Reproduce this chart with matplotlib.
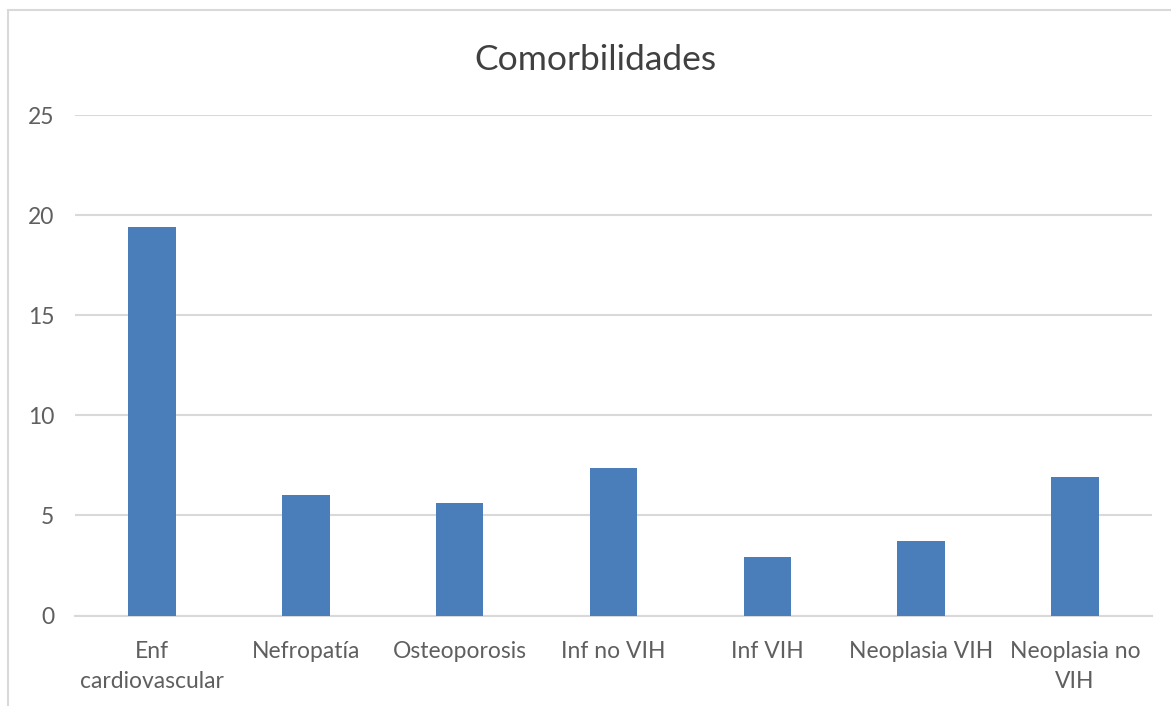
import matplotlib
matplotlib.use('Agg')
import matplotlib.pyplot as plt
from matplotlib.patches import Rectangle

categorias = ['Enf\ncardiovascular', 'Nefropatía', 'Osteoporosis', 'Inf no VIH',
              'Inf VIH', 'Neoplasia VIH', 'Neoplasia no\nVIH']
valores = [19.4, 6.0, 5.6, 7.35, 2.9, 3.7, 6.9]
yticks = [0, 5, 10, 15, 20, 25]

W, H = 1171, 706
plt.rcParams['font.family'] = ['Lato', 'DejaVu Sans']
fig = plt.figure(figsize=(W/100, H/100), dpi=100)

# outer chart frame (left/top visible, rest cut off)
fig.patches.append(Rectangle((8/W, -0.1), 1.2, 1 - 10/H + 0.1, transform=fig.transFigure,
                             fill=False, edgecolor='#d9d9d9', lw=1.5))

ax = fig.add_axes([75/W, 1-615.5/H, (1152-75)/W, (615.5-115)/H])
x = range(len(categorias))
ax.bar(x, valores, width=0.31, color='#4a7ebb', zorder=3)
ax.set_xlim(-0.5, len(categorias)-0.5)
ax.set_ylim(0, 25)
ax.set_yticks(yticks)
ax.set_xticks(list(x))
ax.set_xticklabels(categorias, fontsize=16.5, color='#5f5f5f', linespacing=1.55)
ax.tick_params(axis='y', labelsize=16.5, labelcolor='#5f5f5f', length=0, pad=15)
ax.tick_params(axis='x', length=0, pad=18)
ax.grid(axis='y', color='#d9d9d9', lw=1.5, zorder=0)
for s in ['top', 'right', 'left']:
    ax.spines[s].set_visible(False)
ax.spines['bottom'].set_color('#d9d9d9')
ax.spines['bottom'].set_linewidth(1.5)

fig.text(595/W, 1-60/H, 'Comorbilidades', ha='center', va='center', fontsize=25.5, color='#404040')

fig.savefig('out.png', dpi=100)
